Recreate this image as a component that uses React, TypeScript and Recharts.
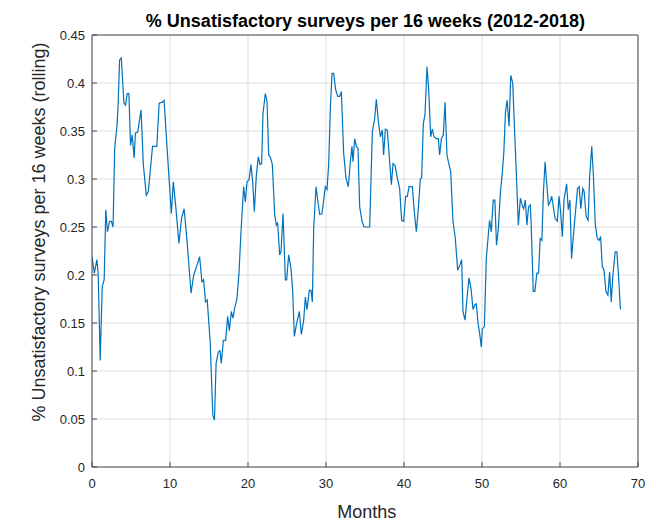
import React from 'react';
import { LineChart, Line, XAxis, YAxis, CartesianGrid } from 'recharts';

const months: number[] = [
  0, 0.30, 0.63, 0.80, 1.05, 1.31, 1.56, 1.77, 1.98, 2.24, 2.49, 2.70, 2.91, 3.21, 3.33, 3.54, 3.76, 4.09, 4.30, 4.51,
  4.73, 4.94, 5.15, 5.40, 5.57, 5.86, 6.29, 6.58, 6.96, 7.22, 7.76, 8.31, 8.61, 9.03, 9.24, 9.66, 10.17, 10.42, 10.72, 11.14,
  11.48, 11.81, 12.19, 12.70, 13.04, 13.46, 13.80, 14.09, 14.30, 14.56, 14.77, 15.15, 15.49, 15.70, 15.91, 16.20, 16.41, 16.58, 16.84,
  17.14, 17.39, 17.61, 17.86, 18.08, 18.25, 18.59, 18.85, 19.10, 19.44, 19.66, 19.87, 20.13, 20.38, 20.60, 20.81, 21.07, 21.32, 21.54, 21.75,
  21.92, 22.22, 22.44, 22.65, 22.86, 23.12, 23.42, 23.63, 23.80, 24.06, 24.23, 24.49, 24.79, 24.96, 25.21, 25.51, 25.73, 25.94, 26.20, 26.58,
  26.84, 27.14, 27.35, 27.56, 27.86, 28.08, 28.25, 28.42, 28.72, 28.97, 29.19, 29.49, 29.91, 30.13, 30.34, 30.56, 30.77, 30.98, 31.24, 31.50,
  31.75, 31.97, 32.26, 32.56, 32.86, 33.12, 33.33,
  33.46, 33.68, 33.89, 34.10, 34.32, 34.62, 34.87, 35.26, 35.60, 35.94, 36.24, 36.45, 36.71, 36.97, 37.22, 37.39, 37.61, 37.86, 38.16, 38.38,
  38.59, 38.85, 39.15, 39.44, 39.70, 39.96, 40.21, 40.43, 40.64, 41.07, 41.32, 41.58, 41.84, 42.09, 42.26, 42.48, 42.69, 42.95, 43.16, 43.42,
  43.63, 43.85, 44.15, 44.40, 44.57, 44.79, 45.04, 45.26, 45.51, 45.77, 45.98, 46.28, 46.58, 46.88, 47.14, 47.39, 47.56, 47.82, 48.08, 48.33,
  48.59, 48.85, 49.10, 49.27, 49.49, 49.70, 49.91,
  50.04, 50.30, 50.55, 50.81, 50.97, 51.19, 51.44, 51.65, 51.86, 52.08, 52.37, 52.58, 52.80, 53.01, 53.22, 53.47, 53.69, 53.94, 54.15, 54.41,
  54.66, 54.92, 55.13, 55.34, 55.55, 55.76, 55.97, 56.19, 56.31, 56.57, 56.78, 57.03, 57.25, 57.46, 57.67, 57.88, 58.09, 58.31, 58.52, 58.73,
  58.94, 59.15, 59.36, 59.66, 59.87, 60.08, 60.30, 60.51, 60.85, 61.06, 61.27, 61.48, 61.69, 61.91, 62.25, 62.46, 62.67, 62.92, 63.09, 63.35,
  63.60, 63.81, 64.07, 64.28, 64.53, 64.79, 65.00, 65.21, 65.42, 65.64, 65.89, 66.14, 66.36, 66.57, 66.78, 67.08, 67.29, 67.50, 67.75,
];

const unsatisfactory: number[] = [
  0.219, 0.202, 0.216, 0.2, 0.111, 0.188, 0.195, 0.268, 0.245, 0.256, 0.256, 0.25, 0.332, 0.356, 0.374, 0.424, 0.426, 0.379, 0.377, 0.389,
  0.389, 0.335, 0.346, 0.322, 0.348, 0.349, 0.372, 0.315, 0.283, 0.287, 0.334, 0.334, 0.379, 0.380, 0.382, 0.328, 0.264, 0.297, 0.273, 0.233,
  0.259, 0.269, 0.235, 0.181, 0.2, 0.21, 0.219, 0.193, 0.195, 0.172, 0.174, 0.131, 0.054, 0.049, 0.108, 0.12, 0.121, 0.108, 0.132,
  0.132, 0.157, 0.142, 0.162, 0.155, 0.164, 0.176, 0.203, 0.245, 0.292, 0.276, 0.297, 0.299, 0.315, 0.297, 0.266, 0.304, 0.323, 0.315, 0.316,
  0.368, 0.389, 0.381, 0.325, 0.323, 0.315, 0.263, 0.252, 0.254, 0.221, 0.224, 0.264, 0.195, 0.195, 0.221, 0.207, 0.183, 0.136, 0.148, 0.162,
  0.138, 0.153, 0.177, 0.164, 0.184, 0.184, 0.172, 0.248, 0.292, 0.276, 0.263, 0.264, 0.292, 0.289, 0.315, 0.374, 0.41, 0.41, 0.393, 0.386,
  0.386, 0.391, 0.327, 0.301, 0.292, 0.318, 0.334,
  0.318, 0.342, 0.334, 0.332, 0.271, 0.256, 0.25, 0.25, 0.25, 0.349, 0.363, 0.383, 0.36, 0.344, 0.351, 0.325, 0.352, 0.351, 0.318, 0.294,
  0.316, 0.314, 0.301, 0.29, 0.257, 0.256, 0.282, 0.282, 0.292, 0.292, 0.266, 0.245, 0.269, 0.3, 0.301, 0.358, 0.367, 0.417, 0.394, 0.344,
  0.352, 0.344, 0.342, 0.342, 0.325, 0.342, 0.346, 0.38, 0.325, 0.315, 0.308, 0.256, 0.238, 0.205, 0.21, 0.216, 0.162, 0.153, 0.176, 0.197,
  0.186, 0.164, 0.169, 0.17, 0.15, 0.139, 0.125,
  0.144, 0.146, 0.217, 0.242, 0.257, 0.245, 0.278, 0.278, 0.231, 0.247, 0.287, 0.304, 0.328, 0.37, 0.382, 0.355, 0.408, 0.4, 0.356, 0.304,
  0.252, 0.28, 0.273, 0.269, 0.278, 0.252, 0.271, 0.273, 0.252, 0.183, 0.183, 0.202, 0.202, 0.238, 0.236, 0.287, 0.318, 0.294, 0.273, 0.276,
  0.282, 0.271, 0.259, 0.256, 0.282, 0.266, 0.24, 0.278, 0.295, 0.268, 0.278, 0.217, 0.238, 0.259, 0.29, 0.292, 0.269, 0.29, 0.287, 0.261,
  0.257, 0.304, 0.334, 0.304, 0.252, 0.238, 0.236, 0.24, 0.209, 0.205, 0.183, 0.179, 0.203, 0.172, 0.2, 0.224, 0.224, 0.2, 0.164,
];

const xTicks: number[] = [0, 10, 20, 30, 40, 50, 60, 70];
const yTicks: number[] = [0, 0.05, 0.1, 0.15, 0.2, 0.25, 0.3, 0.35, 0.4, 0.45];

const titleText = '% Unsatisfactory surveys per 16 weeks (2012-2018)';
const xLabelText = 'Months';
const yLabelText = '% Unsatisfactory surveys per 16 weeks (rolling)';

const data = months.map((m, i) => ({ month: m, value: unsatisfactory[i] }));

const FONT = '"Liberation Sans", Arial, Helvetica, sans-serif';
const AXIS = '#4a4a4a';
const TEXT = '#262626';

const fmt = (v: number) => String(Number(v.toFixed(2)));

export default function App() {
  const W = 648;
  const H = 513;
  return (
    <div style={{ position: 'relative', width: W, height: H, background: '#fff' }}>
      <LineChart
        width={W}
        height={H}
        data={data}
        margin={{ top: 26, right: 17, bottom: 24, left: 44 }}
      >
        <CartesianGrid xAxisId="bottom" yAxisId="left" stroke="#dfdfdf" strokeWidth={1} />
        <XAxis
          xAxisId="bottom"
          dataKey="month"
          type="number"
          domain={[0, 70]}
          ticks={xTicks}
          allowDataOverflow
          height={30}
          tickSize={-5}
          tickMargin={17}
          axisLine={{ stroke: AXIS }}
          tickLine={{ stroke: AXIS }}
          tick={{ fill: TEXT, fontSize: 13, fontFamily: FONT }}
        />
        <XAxis
          xAxisId="top"
          orientation="top"
          dataKey="month"
          type="number"
          domain={[0, 70]}
          ticks={xTicks}
          allowDataOverflow
          height={1}
          tickSize={-5}
          axisLine={{ stroke: AXIS }}
          tickLine={{ stroke: AXIS }}
          tick={false}
        />
        <YAxis
          yAxisId="left"
          type="number"
          domain={[0, 0.45]}
          ticks={yTicks}
          allowDataOverflow
          width={40}
          tickSize={-5}
          tickMargin={12}
          tickFormatter={fmt}
          axisLine={{ stroke: AXIS }}
          tickLine={{ stroke: AXIS }}
          tick={{ fill: TEXT, fontSize: 13, fontFamily: FONT }}
        />
        <YAxis
          yAxisId="right"
          orientation="right"
          type="number"
          domain={[0, 0.45]}
          ticks={yTicks}
          allowDataOverflow
          width={1}
          tickSize={-5}
          axisLine={{ stroke: AXIS }}
          tickLine={{ stroke: AXIS }}
          tick={false}
        />
        <Line
          xAxisId="bottom"
          yAxisId="left"
          type="linear"
          dataKey="value"
          stroke="#0072BD"
          strokeWidth={1.2}
          dot={false}
          activeDot={false}
          isAnimationActive={false}
        />
      </LineChart>
      <svg
        width={W}
        height={H}
        style={{ position: 'absolute', left: 0, top: 0, pointerEvents: 'none' }}
      >
        <text x={357.5} y={18.7} textAnchor="middle" fontFamily={FONT} fontSize={18} fontWeight="bold" fill="#000">
          {titleText}
        </text>
        <text x={358.7} y={510} textAnchor="middle" fontFamily={FONT} fontSize={18} fill={TEXT}>
          {xLabelText}
        </text>
        <text
          x={0}
          y={0}
          textAnchor="middle"
          fontFamily={FONT}
          fontSize={18}
          fill={TEXT}
          transform="translate(36.5,224) rotate(-90)"
        >
          {yLabelText}
        </text>
      </svg>
    </div>
  );
}
